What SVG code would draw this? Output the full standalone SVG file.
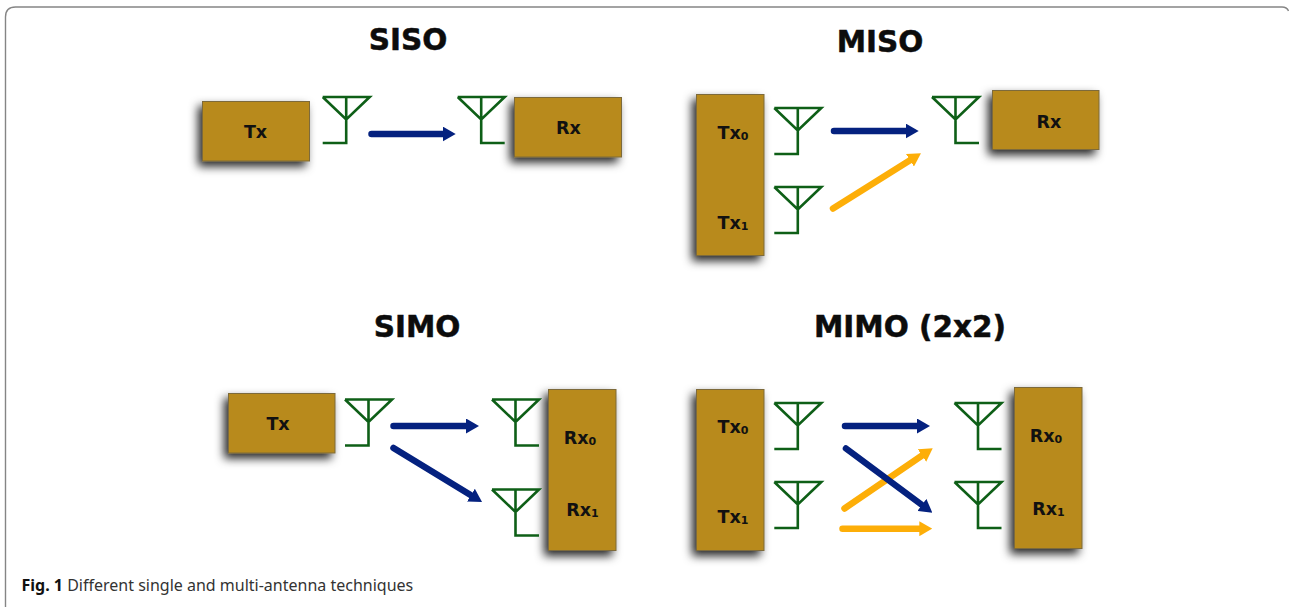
<svg xmlns="http://www.w3.org/2000/svg" width="1289" height="607" viewBox="0 0 1289 607">
<style>
.box{fill:#b88a1f;stroke:#7d6a3a;stroke-width:1;filter:url(#sh)}
.ant{fill:none;stroke:#0e5f17;stroke-width:2.6}
.title{font:bold 29.5px "DejaVu Sans",Verdana,sans-serif;fill:#0c0c0c;stroke:#0c0c0c;stroke-width:.5;text-anchor:middle}
.lbl{font:bold 17.500px "DejaVu Sans",Verdana,sans-serif;fill:#111;text-anchor:middle}
.sub{font-size:11px}
.b{stroke:#04217f;stroke-width:6.500;stroke-linecap:round;fill:none}
.o{stroke:#fdae08;stroke-width:6.500;stroke-linecap:round;fill:none}
.cap{font:16px "Noto Sans","Open Sans",sans-serif;fill:#333}
.capb{font-weight:700;fill:#111}
</style>
<defs>
<filter id="sh" x="-30%" y="-30%" width="160%" height="160%"><feDropShadow dx="-4" dy="5" stdDeviation="5" flood-color="#000" flood-opacity="0.85"/></filter>
<marker id="hb" viewBox="0 0 13 15" refX="1" refY="7.500" markerWidth="13" markerHeight="15" markerUnits="userSpaceOnUse" orient="auto"><path d="M0 0L13 7.500L0 15z" fill="#04217f"/></marker>
<marker id="ho" viewBox="0 0 13 15" refX="1" refY="7.500" markerWidth="13" markerHeight="15" markerUnits="userSpaceOnUse" orient="auto"><path d="M0 0L13 7.500L0 15z" fill="#fdae08"/></marker>
<path id="aL" class="ant" d="M0 0H47L23.5 22.5L0 0M23.5 0V46H0"/>
<path id="aR" class="ant" d="M0 0H47L23.5 22.5L0 0M23.5 0V46H47"/>
</defs>
<rect x="0" y="0" width="1289" height="607" fill="#fff"/>
<path d="M5.5 607V17Q5.5 7 15.500 7H1282Q1287 7 1288.500 11" fill="none" stroke="#858585" stroke-width="1.400"/>
<text class="title" x="408" y="49.500">SISO</text>
<text class="title" x="880" y="52">MISO</text>
<text class="title" x="417" y="337">SIMO</text>
<text class="title" x="910" y="337">MIMO (2x2)</text>
<g id="siso-tx"><rect class="box" x="202.500" y="101.500" width="107" height="59.500"/><text class="lbl" x="255.500" y="138">Tx</text></g>
<g id="siso-rx"><rect class="box" x="514.500" y="97.500" width="107" height="59.500"/><text class="lbl" x="568.500" y="134">Rx</text></g>
<g id="miso-tx"><rect class="box" x="696.500" y="94.500" width="67.500" height="161"/><text class="lbl" x="733" y="139">Tx<tspan class="sub" dy="1">0</tspan></text><text class="lbl" x="733" y="229">Tx<tspan class="sub" dy="1">1</tspan></text></g>
<g id="miso-rx"><rect class="box" x="992.500" y="90.500" width="106.500" height="59"/><text class="lbl" x="1049" y="128">Rx</text></g>
<g id="simo-tx"><rect class="box" x="228.500" y="393.500" width="106.500" height="59.500"/><text class="lbl" x="278" y="430">Tx</text></g>
<g id="simo-rx"><rect class="box" x="548.500" y="389.500" width="67.500" height="161"/><text class="lbl" x="580" y="444">Rx<tspan class="sub" dy="1">0</tspan></text><text class="lbl" x="582.500" y="516">Rx<tspan class="sub" dy="1">1</tspan></text></g>
<g id="mimo-tx"><rect class="box" x="696.500" y="389.500" width="67.500" height="161"/><text class="lbl" x="733" y="433">Tx<tspan class="sub" dy="1">0</tspan></text><text class="lbl" x="733" y="523">Tx<tspan class="sub" dy="1">1</tspan></text></g>
<g id="mimo-rx"><rect class="box" x="1014.500" y="387.500" width="67.500" height="161"/><text class="lbl" x="1046" y="442">Rx<tspan class="sub" dy="1">0</tspan></text><text class="lbl" x="1048.500" y="515">Rx<tspan class="sub" dy="1">1</tspan></text></g>
<g id="antennas">
<use href="#aL" x="322.700" y="97"/><use href="#aR" x="457.700" y="97"/>
<use href="#aL" x="774.300" y="108"/><use href="#aL" x="774.300" y="187"/><use href="#aR" x="932" y="97"/>
<use href="#aL" x="345" y="399.500"/><use href="#aR" x="492" y="399.500"/><use href="#aR" x="492" y="489.500"/>
<use href="#aL" x="774.300" y="403"/><use href="#aL" x="774.300" y="482"/><use href="#aR" x="954.500" y="403"/><use href="#aR" x="954.500" y="482"/>
</g>
<g id="connectors">
<path class="b" marker-end="url(#hb)" d="M371.500 134H443.700"/>
<path class="b" marker-end="url(#hb)" d="M834 131H906.700"/>
<path class="o" marker-end="url(#ho)" d="M833 208.500L910.800 159.700"/>
<path class="b" marker-end="url(#hb)" d="M393.500 426H467"/>
<path class="b" marker-end="url(#hb)" d="M393.500 448L471.800 495.700"/>
<path class="o" marker-end="url(#ho)" d="M844.500 508.500L922.800 455"/>
<path class="o" marker-end="url(#ho)" d="M842.500 528.700H920.300"/>
<path class="b" marker-end="url(#hb)" d="M845 426H918"/>
<path class="b" marker-end="url(#hb)" d="M846 448.500L922.700 505.500"/>
</g>
<text class="cap" x="21.500" y="591"><tspan class="capb">Fig. 1</tspan> Different single and multi-antenna techniques</text>
</svg>
